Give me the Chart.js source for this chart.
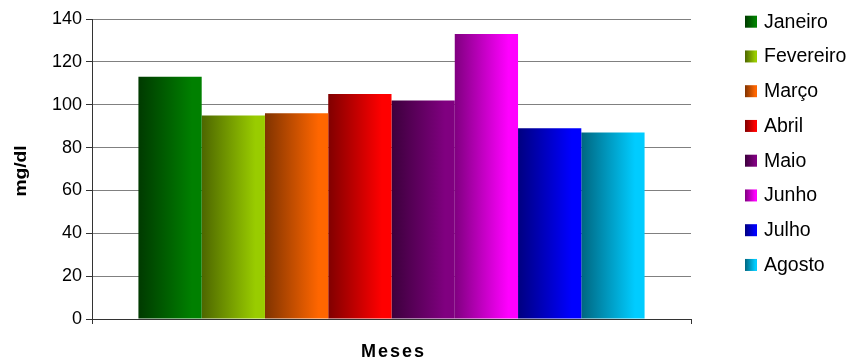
<!DOCTYPE html>
<html>
<head>
<meta charset="utf-8">
<script src="https://cdn.jsdelivr.net/npm/chart.js@4/dist/chart.umd.min.js"></script>
<style>
  html, body { margin: 0; padding: 0; background: #ffffff; }
  #wrap { width: 851px; height: 363px; }
</style>
</head>
<body>
<div id="wrap"><canvas id="chart" width="851" height="363"></canvas></div>
<script>
// Monthly values (mg/dl), one bar per month
const categories = [''];
const months = ['Janeiro', 'Fevereiro', 'Março', 'Abril', 'Maio', 'Junho', 'Julho', 'Agosto'];
const values = [113, 95, 96, 105, 102, 133, 89, 87];
const yTicks = [0, 20, 40, 60, 80, 100, 120, 140];

// Horizontal gradient of each bar: dark left edge -> bright right edge
const darkColors = ['#003a00', '#4d6600', '#803300', '#800000', '#3c003c', '#800080', '#000080', '#006680'];
const brightColors = ['#008000', '#99cc00', '#ff6600', '#ff0000', '#800080', '#ff00ff', '#0000ff', '#00ccff'];

const FONT = '"Liberation Sans", Arial, sans-serif';

function makeGradient(ctx, left, width, i) {
  const g = ctx.createLinearGradient(left, 0, left + width, 0);
  g.addColorStop(0, darkColors[i]);
  g.addColorStop(0.85, brightColors[i]);
  g.addColorStop(1, brightColors[i]);
  return g;
}

// Paint each bar with its own left-to-right gradient once the bars are laid out
const barGradients = {
  id: 'barGradients',
  beforeDatasetsDraw(chart) {
    const ctx = chart.ctx;
    chart.data.datasets.forEach((ds, i) => {
      chart.getDatasetMeta(i).data.forEach(bar => {
        const left = bar.x - bar.width / 2;
        bar.options = Object.assign({}, bar.options, {
          backgroundColor: makeGradient(ctx, left, bar.width, i)
        });
      });
    });
  }
};

// Axis titles and the month legend on the right
const chartText = {
  id: 'chartText',
  afterDraw(chart) {
    const ctx = chart.ctx;
    const area = chart.chartArea;

    // y title, slightly stretched along its baseline
    ctx.save();
    ctx.translate(22, (area.top + area.bottom) / 2 + 2);
    ctx.rotate(-Math.PI / 2);
    ctx.scale(1.2, 1);
    ctx.font = 'bold 16px ' + FONT;
    ctx.fillStyle = '#000';
    ctx.textAlign = 'center';
    ctx.textBaseline = 'middle';
    ctx.fillText('mg/dl', 0, 0);
    ctx.restore();

    // x title
    ctx.save();
    ctx.font = 'bold 18px ' + FONT;
    ctx.letterSpacing = '2px';
    ctx.fillStyle = '#000';
    ctx.textAlign = 'center';
    ctx.textBaseline = 'middle';
    ctx.fillText('Meses', (area.left + area.right) / 2 + 2, 352);
    ctx.restore();

    // legend
    ctx.save();
    const boxX = 745, boxSize = 12, firstY = 15.7, step = 34.75;
    ctx.font = '19.5px ' + FONT;
    ctx.textAlign = 'left';
    ctx.textBaseline = 'middle';
    months.forEach((m, i) => {
      const y = firstY + i * step;
      ctx.fillStyle = makeGradient(ctx, boxX, boxSize, i);
      ctx.fillRect(boxX, y, boxSize, boxSize);
      ctx.fillStyle = '#000';
      ctx.fillText(m, 764, y + boxSize / 2 + 0.5);
    });
    ctx.restore();
  }
};

const datasets = months.map((m, i) => ({
  label: m,
  data: [values[i]],
  backgroundColor: brightColors[i],
  borderWidth: 0,
  barPercentage: 1.0,
  categoryPercentage: 0.845
}));

new Chart(document.getElementById('chart'), {
  type: 'bar',
  data: { labels: categories, datasets: datasets },
  options: {
    responsive: false,
    animation: false,
    devicePixelRatio: 1,
    layout: { padding: { left: 0, top: 19, right: 160, bottom: 0 } },
    plugins: {
      legend: { display: false },
      tooltip: { enabled: false },
      title: { display: false }
    },
    scales: {
      x: {
        grid: {
          display: true,
          offset: true,
          drawOnChartArea: false,
          drawTicks: true,
          tickLength: 5,
          tickColor: '#333333',
          color: '#333333'
        },
        border: { display: true, color: '#333333', width: 1 },
        ticks: { display: true, font: { family: FONT, size: 18 }, color: '#000' },
        afterFit(scale) { scale.height = 44; }
      },
      y: {
        min: 0,
        max: 140,
        afterBuildTicks(scale) { scale.ticks = yTicks.map(v => ({ value: v })); },
        grid: {
          color: '#808080',
          lineWidth: 1,
          drawTicks: true,
          tickLength: 6,
          tickColor: '#333333'
        },
        border: { display: true, color: '#333333', width: 1 },
        ticks: {
          padding: 4,
          color: '#000',
          font: { family: FONT, size: 18 }
        },
        afterFit(scale) { scale.width = 92; }
      }
    }
  },
  plugins: [barGradients, chartText]
});
</script>
</body>
</html>
